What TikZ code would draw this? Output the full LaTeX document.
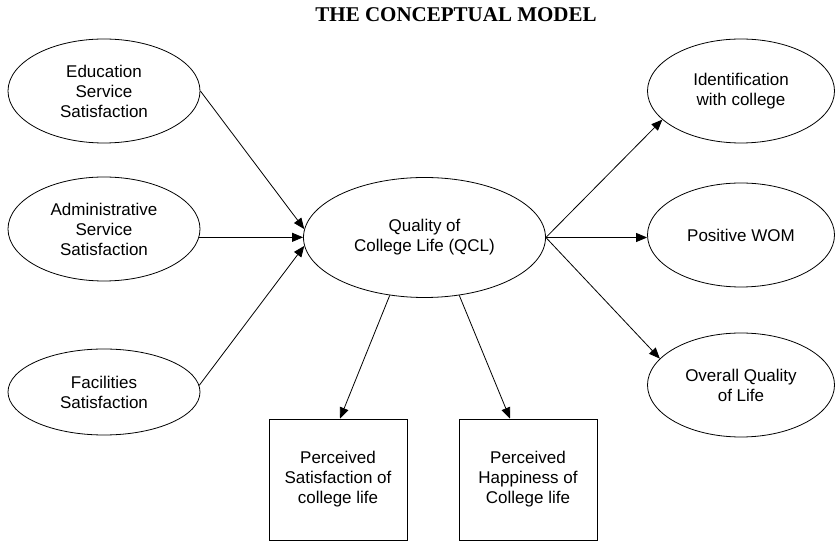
\documentclass[tikz,border=0pt]{standalone}
\usepackage{fontspec}
\setmainfont{Liberation Serif}
\setsansfont{Liberation Sans}
\usetikzlibrary{shapes.geometric,arrows.meta}

\begin{document}
\begin{tikzpicture}[x=1pt,y=1pt,
  every node/.style={font=\sffamily\fontsize{17}{20}\selectfont, align=center},
  oval/.style={draw, ellipse, inner sep=0pt, line width=0.8pt},
  box/.style={draw, rectangle, minimum width=138pt, minimum height=121pt,
              inner sep=0pt, line width=0.8pt},
  link/.style={-{Triangle[length=11pt,width=9pt]}, line width=0.8pt},
]
\useasboundingbox (0,0) rectangle (836,541);

% heading
\node[font=\rmfamily\bfseries\fontsize{21}{24}\selectfont] (title) at (456,526)
  {THE CONCEPTUAL MODEL};

% antecedents
\node[oval, minimum width=192pt, minimum height=104pt] (edu) at (104,450)
  {Education\\Service\\Satisfaction};
\node[oval, minimum width=192pt, minimum height=104pt] (adm) at (104,312)
  {Administrative\\Service\\Satisfaction};
\node[oval, minimum width=192pt, minimum height=86pt] (fac) at (104,149)
  {Facilities\\Satisfaction};

% central construct
\node[oval, minimum width=242pt, minimum height=120pt] (qcl) at (424.5,303.5)
  {Quality of\\College Life (QCL)};

% consequences
\node[oval, minimum width=187pt, minimum height=104pt] (ide) at (741,450)
  {Identification\\with college};
\node[oval, minimum width=187pt, minimum height=104pt] (wom) at (741,306)
  {Positive WOM};
\node[oval, minimum width=187pt, minimum height=104pt] (ovr) at (741,156)
  {Overall Quality\\of Life};

% measured indicators
\node[box] (sat) at (338,61.5) {Perceived\\Satisfaction of\\college life};
\node[box] (hap) at (528,61.5) {Perceived\\Happiness of\\College life};

% paths
\draw[link] (edu.east) -- (qcl.176);
\draw[link] (adm.-5) -- (adm.-5 -| qcl.west);
\draw[link] (fac.4) -- (qcl.184);
\draw[link] (qcl.east) -- (ide.200);
\draw[link] (qcl.east) -- (qcl.east -| wom.west);
\draw[link] (qcl.east) -- (ovr.162);
\draw[link] (qcl.239) -- ([xshift=2pt]sat.north);
\draw[link] (qcl.301) -- ([xshift=-18pt]hap.north);
\end{tikzpicture}
\end{document}
